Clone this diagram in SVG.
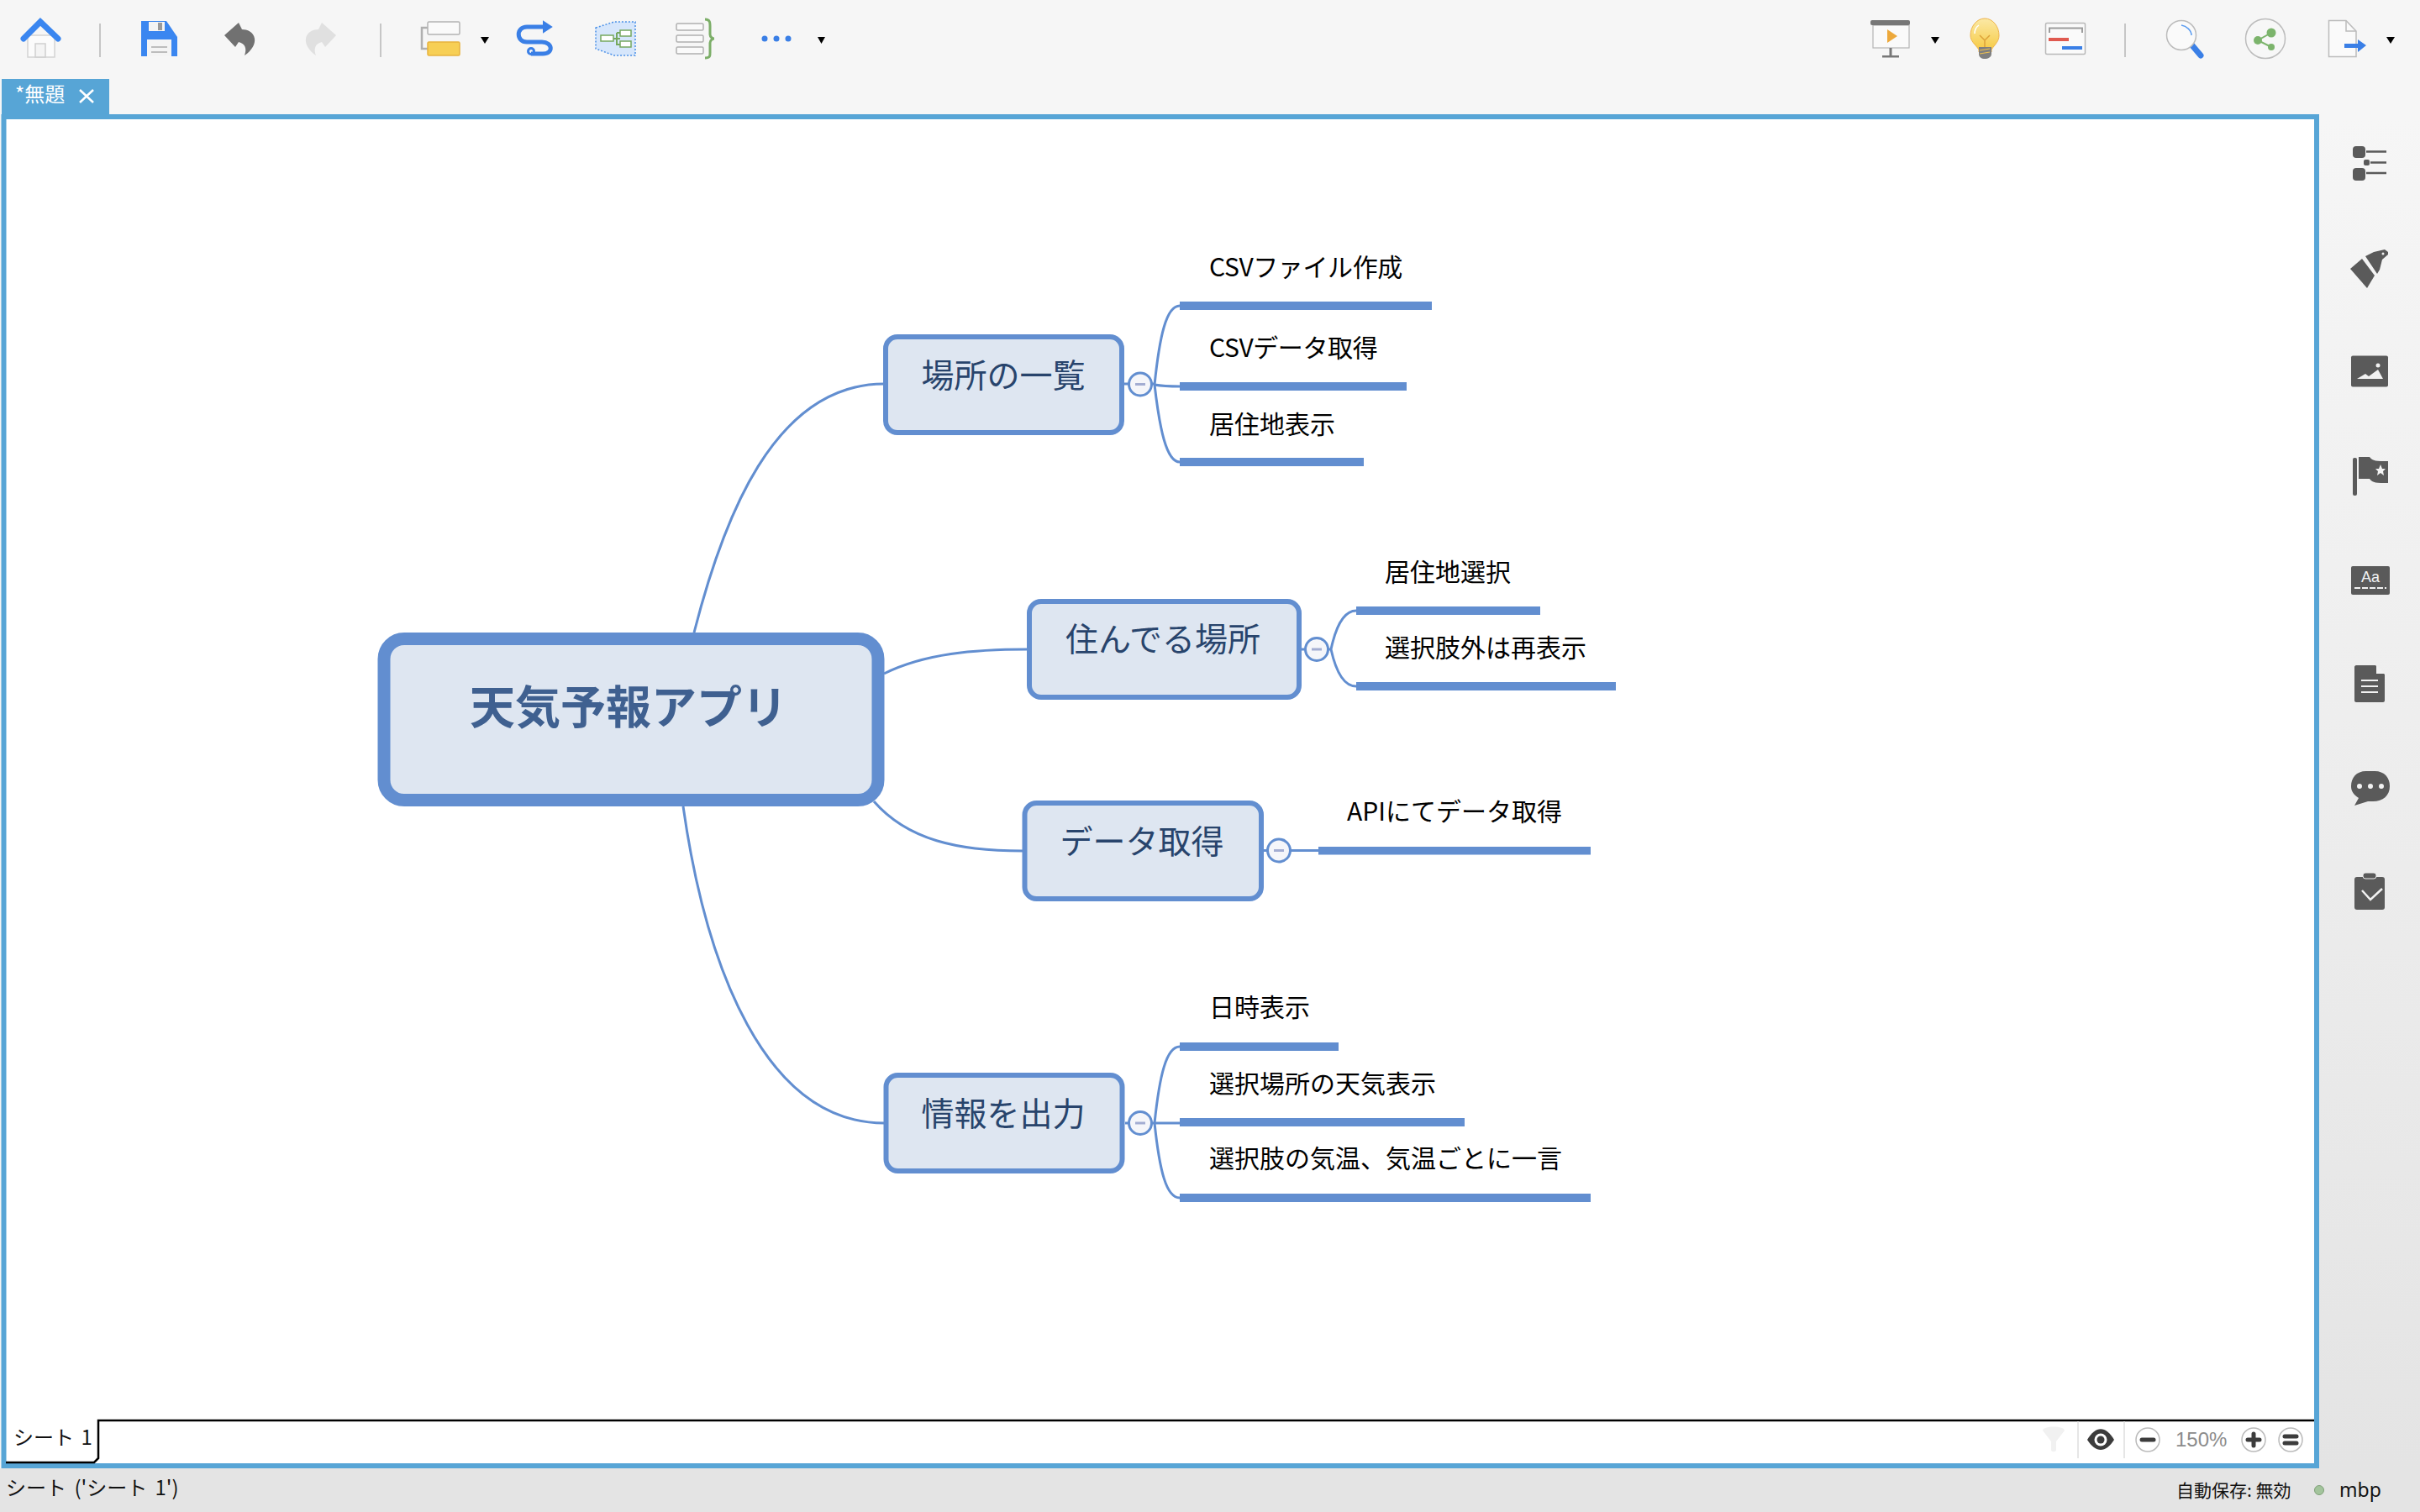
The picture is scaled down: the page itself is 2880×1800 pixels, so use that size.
<svg xmlns="http://www.w3.org/2000/svg" width="2880" height="1800" viewBox="0 0 2880 1800">
<defs>
<style>
text{font-family:"Liberation Sans","Noto Sans CJK JP",sans-serif}
.conn{fill:none;stroke:#628ed0;stroke-width:3}
.bar{fill:#628ed0}
.topic{fill:#dee6f1;stroke:#628ed0;stroke-width:6}
.tt{font-size:39px;fill:#28446c;font-family:"Noto Sans CJK JP",sans-serif;font-weight:400}
.leaf{font-size:30px;fill:#000;font-family:"Noto Sans CJK JP",sans-serif}
.coll{fill:#f5f6fa;stroke:#628ed0;stroke-width:3}
.mn{fill:#a3add2}
.ui{font-size:24px;fill:#111;font-family:"Noto Sans CJK JP",sans-serif}
.sep{stroke:#c6c6c6;stroke-width:2}
.tri{fill:#000}
.ic{fill:#5a5a5a}
.sb{fill:none;stroke:#5a5a5a;stroke-width:2.5}
.zb{fill:#fff;stroke:#bbb;stroke-width:1.5}
.zl{stroke:#3c3c3c;stroke-width:5;stroke-linecap:round}
</style>
<linearGradient id="side" x1="0" y1="0" x2="0" y2="1"><stop offset="0" stop-color="#f6f6f6"/><stop offset="1" stop-color="#e4e4e4"/></linearGradient>
<linearGradient id="yel" x1="0" y1="0" x2="0" y2="1"><stop offset="0" stop-color="#fbe9a6"/><stop offset="1" stop-color="#f6c93f"/></linearGradient>
</defs>

<g id="chrome">
<rect width="2880" height="1800" fill="#f6f6f6"/>
<rect x="2760" y="136" width="120" height="1612" fill="url(#side)"/>
<rect y="1748" width="2880" height="52" fill="#e4e4e4"/>
<rect x="4.500" y="139" width="2752.500" height="1606" fill="#fff" stroke="#57a5d6" stroke-width="6"/>
<rect x="2" y="94" width="128" height="44" fill="#57a5d6"/>
<text x="18" y="121" font-size="24" fill="#fff" style="font-family:'Noto Sans CJK JP',sans-serif">*無題</text>
<path d="M95 107L111 122M111 107L95 122" stroke="#fff" stroke-width="2.500" fill="none"/>
<path d="M7 1741H112L117 1736V1691H2754" fill="none" stroke="#000" stroke-width="2.500"/>
<text class="ui" x="16" y="1720" word-spacing="3">シート 1</text>
<text class="ui" x="7" y="1780" word-spacing="4">シート ('シート 1')</text>
<path d="M2473 1692V1736M2528 1692V1736" stroke="#e6e6e6" stroke-width="2"/>
<path d="M2431 1703C2431 1697 2457 1697 2457 1703L2447 1716V1726C2447 1729 2441 1729 2441 1726V1716Z" fill="#f1f1f1"/>
<path d="M2484 1714C2494 1697 2506 1697 2516 1714C2506 1730 2494 1730 2484 1714Z" fill="#3c3c3c"/><circle cx="2500" cy="1714" r="7.500" fill="#fff"/><circle cx="2500" cy="1714" r="4.500" fill="#3c3c3c"/>
<circle class="zb" cx="2556" cy="1714" r="14"/><path class="zl" d="M2549 1714H2563"/>
<text x="2589" y="1722" font-size="24" fill="#8c8c8c" style="font-family:'Liberation Sans',sans-serif">150%</text>
<circle class="zb" cx="2682" cy="1714" r="14"/><path class="zl" d="M2675 1714H2689M2682 1707V1721"/>
<circle class="zb" cx="2726" cy="1714" r="14"/><path class="zl" d="M2719 1710H2733M2719 1718H2733"/>
<text class="ui" x="2590" y="1782" style="font-size:21px">自動保存: 無効</text>
<circle cx="2760" cy="1774" r="5.500" fill="#a3c49c" stroke="#7fa078" stroke-width="1"/>
<text class="ui" x="2784" y="1782" style="font-size:23px;font-family:'Noto Sans',sans-serif">mbp</text>
</g>

<g id="toolbar">
<rect x="33" y="42" width="32" height="26" fill="#fbfbfb" stroke="#d4d4d4" stroke-width="1.500"/><rect x="42" y="52" width="12" height="16" fill="#f4f4f4" stroke="#cfcfcf" stroke-width="1.500"/>
<path d="M28 46L48 26L69 46" fill="none" stroke="#3a86f0" stroke-width="7" stroke-linecap="round"/>
<path class="sep" d="M119 28V68M453 28V68M2529 28V68"/>
<path d="M168 25H198L211 44V67H168Z" fill="#3a86f0"/><rect x="177" y="26" width="19" height="11" fill="#f4f4f4"/><rect x="188" y="27" width="5" height="9" fill="#9a9a9a"/><rect x="175" y="47" width="29" height="20" fill="#f4f4f4"/><path d="M180 56H199M180 62H199" stroke="#aaa" stroke-width="1.500"/>
<path id="undo" d="M284 27L267 42L280 56L284 50C292 52 294 58 291 66C300 60 304 52 303 46C302 38 294 35 288 35Z" fill="#717171"/>
<path d="M383 27L400 42L387 56L383 50C375 52 373 58 376 66C367 60 363 52 364 46C365 38 373 35 379 35Z" fill="#e0e0e0"/>
<path d="M509 33H502V58H509" fill="none" stroke="#b0b0b0" stroke-width="2.500"/><rect x="509" y="26" width="38" height="15" rx="1.500" fill="#fafafa" stroke="#b4b4b4" stroke-width="1.500"/><rect x="509" y="50" width="38" height="16" rx="1.500" fill="#f7cf55" stroke="#e8b33e" stroke-width="1.500"/>
<path class="tri" d="M572 44H582L577 52Z"/>
<path d="M648 32H627C614 32 614 50 627 50H645C658 50 659 64 646 64H632" fill="none" stroke="#3a7fe6" stroke-width="5"/><path d="M647 26L656 32L647 38Z" fill="#3a7fe6" stroke="#3a7fe6" stroke-width="2"/><circle cx="632" cy="61" r="3.500" fill="none" stroke="#3a7fe6" stroke-width="3"/>
<path d="M709 33L731 26H756V66H731L709 58Z" fill="#d6e6fb" stroke="#4a90e8" stroke-width="1.500" stroke-dasharray="2 2"/><path d="M730 46H738M734 39V53H738M734 39H738" fill="none" stroke="#76a85f" stroke-width="2"/><rect x="715" y="42" width="15" height="7" fill="#fff" stroke="#76a85f" stroke-width="1.500"/><rect x="738" y="36" width="13" height="7" fill="#fff" stroke="#76a85f" stroke-width="1.500"/><rect x="738" y="49" width="13" height="7" fill="#fff" stroke="#76a85f" stroke-width="1.500"/>
<g fill="#fafafa" stroke="#b0b0b0" stroke-width="1.500"><rect x="805" y="28" width="32" height="8" rx="1.500"/><rect x="805" y="42" width="32" height="8" rx="1.500"/><rect x="805" y="56" width="32" height="8" rx="1.500"/></g>
<path d="M839 23C846 23 845 28 845 36V41C845 44 848 46 850 46C848 46 845 48 845 51V60C845 66 846 69 839 69" fill="none" stroke="#7cae68" stroke-width="3"/>
<circle cx="910" cy="46" r="3.500" fill="#3a7fe6"/><circle cx="924" cy="46" r="3.500" fill="#3a7fe6"/><circle cx="938" cy="46" r="3.500" fill="#3a7fe6"/>
<path class="tri" d="M973 44H982L977.500 52Z"/>
<rect x="2229" y="30" width="43" height="27" fill="#fafafa" stroke="#b4b4b4" stroke-width="1.200"/><rect x="2226" y="24" width="47" height="6" rx="2" fill="#777"/><path d="M2246 35L2258 43L2246 51Z" fill="#eda93c"/><path d="M2250 57V66" stroke="#777" stroke-width="3"/><rect x="2240" y="66" width="20" height="2.500" fill="#777"/>
<path class="tri" d="M2298 44H2308L2303 52Z"/>
<path d="M2362 22C2352 22 2345 32 2345 42C2345 49 2350 52 2355 59V62H2370V59C2375 52 2379 49 2379 42C2379 32 2372 22 2362 22Z" fill="url(#yel)" stroke="#eeb34a" stroke-width="1"/><path d="M2355 30C2352 32 2350 36 2350 40" fill="none" stroke="#fff" stroke-width="1.500"/><path d="M2356 42L2362 48L2368 42M2362 48V58" fill="none" stroke="#dca33a" stroke-width="1.500"/><path d="M2355 56H2370V64C2370 68 2366 70 2362 70C2358 70 2355 68 2355 64Z" fill="#7f7f7f"/><path d="M2356 60L2368 58M2356 64L2368 62" stroke="#eec04e" stroke-width="1.200"/>
<rect x="2434.500" y="27.500" width="47" height="37" rx="1.500" fill="#fafafa" stroke="#b8b8b8" stroke-width="1.500"/><path d="M2439 39V33.500H2478V39" fill="none" stroke="#9c9c9c" stroke-width="2"/><rect x="2438" y="45" width="24" height="4" fill="#e05a50"/><rect x="2454" y="55" width="24" height="4" fill="#3a7fe6"/>
<path d="M2608 53L2619 66" stroke="#3a7fe6" stroke-width="7" stroke-linecap="round"/><circle cx="2596" cy="42" r="17.500" fill="#fafafa" stroke="#bcbcbc" stroke-width="1.500"/><path d="M2596 30C2602 31 2608 36 2608 42" fill="none" stroke="#5b9cf0" stroke-width="1.500"/>
<ellipse cx="2696" cy="46" rx="23.500" ry="23.500" fill="#f7f7f7" stroke="#bcbcbc" stroke-width="1.500"/><path d="M2703 39L2687 48L2703 56" fill="none" stroke="#7cb46c" stroke-width="2"/><circle cx="2703" cy="39" r="5.500" fill="#7cb46c"/><circle cx="2687" cy="48" r="5" fill="#7cb46c"/><circle cx="2703" cy="56" r="4" fill="#7cb46c"/>
<path d="M2771.500 24.500H2792L2804 37V67.500H2771.500Z" fill="#fafafa" stroke="#bcbcbc" stroke-width="1.500"/><path d="M2792 24.500V37H2804" fill="none" stroke="#bcbcbc" stroke-width="1.500"/><path d="M2790 52H2806V47L2816 54L2806 62V57H2790Z" fill="#3a7fe6"/>
<path class="tri" d="M2840 44H2850L2845 52Z"/>
</g>

<g id="sidebar">
<rect class="ic" x="2800" y="174" width="15" height="14" rx="4"/><rect class="ic" x="2813" y="190" width="7" height="7" rx="2"/><rect class="ic" x="2800" y="200" width="15" height="15" rx="4"/><path class="sb" d="M2816 180.500H2840M2821 193.500H2840M2816 206H2840"/>
<path class="ic" d="M2797 320L2811 308L2826 328L2817 343Z"/><path class="ic" d="M2815 305L2825 300L2838 297L2842 300V303L2835 309L2832 321L2829 326Z"/><circle cx="2836" cy="302" r="1.500" fill="#f2f2f2"/>
<rect class="ic" x="2798" y="423.500" width="44" height="37" rx="2"/><path d="M2805 451L2815 445L2819 448L2830 440L2836 451Z" fill="#f2f2f2"/><circle cx="2830" cy="435" r="2.500" fill="#f2f2f2"/>
<rect class="ic" x="2800" y="545" width="5" height="45" rx="2"/><path class="ic" d="M2807 544H2820C2824 549 2828 549 2842 549V575C2828 575 2824 575 2820 570H2807Z"/><path d="M2833 553L2835 558H2839L2836 561L2837 566L2833 563L2829 566L2830 561L2827 558H2831Z" fill="#f2f2f2"/>
<rect class="ic" x="2798" y="674" width="46" height="34" rx="2"/><text x="2821" y="693" text-anchor="middle" font-size="18" fill="#f2f2f2">Aa</text><path d="M2802 700H2840" stroke="#f2f2f2" stroke-width="2" stroke-dasharray="7 2"/>
<path class="ic" d="M2804 792H2827L2838 803V834C2838 835 2837 836 2836 836H2804C2803 836 2802 835 2802 834V794C2802 793 2803 792 2804 792Z"/><path d="M2828 792L2838 802H2828Z" fill="#f2f2f2"/><path d="M2810 810H2830M2810 817H2830M2810 824H2830" stroke="#f2f2f2" stroke-width="2"/>
<path class="ic" d="M2816 918H2826C2838 918 2844 926 2844 936C2844 947 2836 954 2824 954H2818L2802 959L2807 950C2801 946 2798 942 2798 936C2798 926 2804 918 2816 918Z"/><circle cx="2808" cy="936" r="3" fill="#f2f2f2"/><circle cx="2821" cy="936" r="3" fill="#f2f2f2"/><circle cx="2834" cy="936" r="3" fill="#f2f2f2"/>
<rect class="ic" x="2802" y="1044" width="36" height="39" rx="3"/><rect class="ic" x="2812" y="1039" width="16" height="7" rx="3" stroke="#f0f0f0" stroke-width="1"/><path d="M2811 1060L2821 1071L2835 1058" fill="none" stroke="#f2f2f2" stroke-width="2.500"/>
</g>

<g id="connectors">
<path class="conn" d="M826 753C860 620 920 457 1052 457"/>
<path class="conn" d="M1052 802C1100 778 1160 773 1222 773"/>
<path class="conn" d="M1040 954C1080 1000 1140 1013 1217 1013"/>
<path class="conn" d="M813 960C840 1150 910 1337 1052 1337"/>
<path class="conn" d="M1338 457H1375M1374 458C1380 400 1388 364 1404 364M1374 458C1380 510 1388 550 1404 550M1374 458C1385 460 1390 460 1404 460"/>
<path class="conn" d="M1548 773H1584M1584 773C1590 745 1600 727 1614 727M1584 773C1590 800 1600 817 1614 817"/>
<path class="conn" d="M1504 1012.500H1569"/>
<path class="conn" d="M1339 1337H1374M1374 1337C1380 1280 1388 1246 1404 1246M1374 1337C1380 1394 1388 1426 1404 1426M1374 1337H1404"/>
</g>

<g id="node-center">
<rect x="457" y="760.500" width="588" height="192" rx="24" fill="#dee6f1" stroke="#628ed0" stroke-width="15"/>
<text x="748" y="862" text-anchor="middle" font-size="54" font-weight="700" fill="#3f6090" style="font-family:'Noto Sans CJK JP',sans-serif">天気予報アプリ</text>
</g>

<g id="node-basho">
<rect class="topic" x="1054" y="401" width="281" height="114" rx="14"/>
<text class="tt" x="1194" y="461" text-anchor="middle">場所の一覧</text>
<circle class="coll" cx="1357" cy="457.500" r="13.500"/><rect class="mn" x="1351" y="456" width="12" height="3"/>
</g>
<g id="leaf-csv-make"><rect class="bar" x="1404" y="359" width="300" height="10"/><text class="leaf" x="1439" y="329" letter-spacing="-0.4">CSVファイル作成</text></g>
<g id="leaf-csv-get"><rect class="bar" x="1404" y="455" width="270" height="10"/><text class="leaf" x="1439" y="425" letter-spacing="-0.4">CSVデータ取得</text></g>
<g id="leaf-kyoju"><rect class="bar" x="1404" y="545" width="219" height="10"/><text class="leaf" x="1439" y="516">居住地表示</text></g>

<g id="node-sunderu">
<rect class="topic" x="1225" y="716" width="321" height="114" rx="14"/>
<text class="tt" x="1384" y="775" text-anchor="middle">住んでる場所</text>
<circle class="coll" cx="1567" cy="773" r="13.500"/><rect class="mn" x="1561" y="771.500" width="12" height="3"/>
</g>
<g id="leaf-sentaku"><rect class="bar" x="1614" y="722" width="219" height="10"/><text class="leaf" x="1648" y="692">居住地選択</text></g>
<g id="leaf-saihyoji"><rect class="bar" x="1614" y="812" width="309" height="10"/><text class="leaf" x="1648" y="782">選択肢外は再表示</text></g>

<g id="node-data">
<rect class="topic" x="1219.500" y="956" width="281.500" height="114" rx="14"/>
<text class="tt" x="1359" y="1016" text-anchor="middle">データ取得</text>
<circle class="coll" cx="1522" cy="1012.500" r="13.500"/><rect class="mn" x="1516" y="1011" width="12" height="3"/>
</g>
<g id="leaf-api"><rect class="bar" x="1569" y="1008" width="324" height="9.500"/><text class="leaf" x="1603" y="977">APIにてデータ取得</text></g>

<g id="node-joho">
<rect class="topic" x="1054.500" y="1280" width="281" height="114" rx="14"/>
<text class="tt" x="1194" y="1340" text-anchor="middle">情報を出力</text>
<circle class="coll" cx="1357" cy="1337" r="13.500"/><rect class="mn" x="1351" y="1335.500" width="12" height="3"/>
</g>
<g id="leaf-nichiji"><rect class="bar" x="1404" y="1241" width="189" height="10"/><text class="leaf" x="1439" y="1210">日時表示</text></g>
<g id="leaf-tenki"><rect class="bar" x="1404" y="1331" width="339" height="10"/><text class="leaf" x="1439" y="1301">選択場所の天気表示</text></g>
<g id="leaf-kion"><rect class="bar" x="1404" y="1421" width="489" height="10"/><text class="leaf" x="1439" y="1390">選択肢の気温、気温ごとに一言</text></g>
</svg>
